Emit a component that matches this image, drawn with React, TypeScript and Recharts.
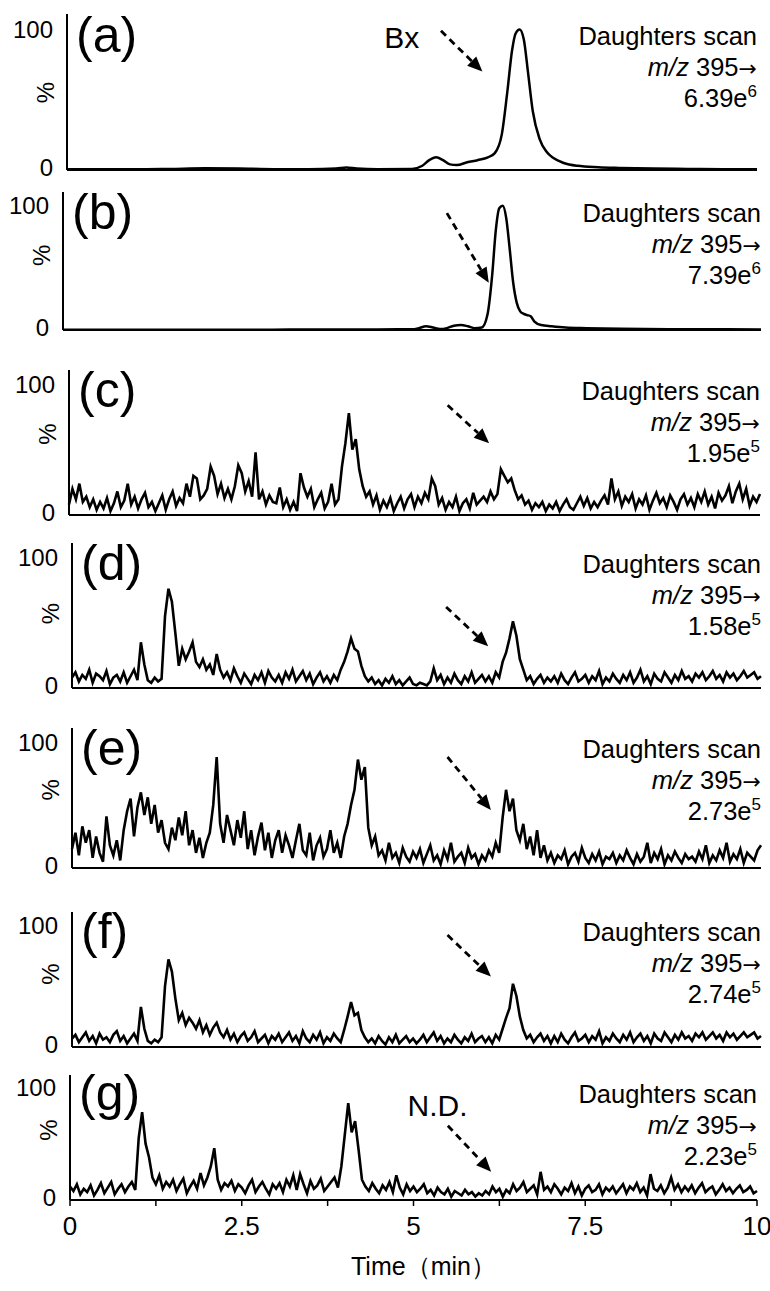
import React from 'react';
import { LineChart, Line, XAxis, YAxis, ReferenceLine, ReferenceDot } from 'recharts';

const FONT = '"Liberation Sans", Arial, sans-serif';

// (a) standard Bx, smooth trace
const timeA = [0, 0.5, 1, 1.5, 2, 2.5, 3, 3.5, 3.9, 4.05, 4.2, 4.5, 5, 5.15, 5.25, 5.35, 5.45, 5.55, 5.65, 5.8, 5.95, 6.1, 6.2, 6.3, 6.38, 6.45, 6.5, 6.56, 6.62, 6.68, 6.75, 6.85, 6.95, 7.05, 7.2, 7.4, 7.7, 8, 8.5, 9, 9.5, 10];
const valuesA = [0.5, 0.5, 0.5, 0.8, 1.2, 1, 0.6, 0.6, 1, 1.8, 1, 0.6, 0.8, 3, 7, 9, 7, 4, 3.5, 5.5, 7, 9, 12, 25, 55, 85, 97, 100, 93, 70, 42, 22, 13, 8.5, 5, 3, 2, 1.5, 1, 0.8, 0.6, 0.5];

// (b) spiked sample, smooth trace
const timeB = [0, 1, 2, 3, 4, 4.5, 5, 5.1, 5.2, 5.3, 5.4, 5.5, 5.6, 5.7, 5.8, 5.9, 6.0, 6.08, 6.15, 6.2, 6.25, 6.3, 6.35, 6.4, 6.45, 6.5, 6.55, 6.6, 6.65, 6.7, 6.75, 6.85, 7, 7.2, 7.5, 8, 9, 10];
const valuesB = [0.3, 0.3, 0.3, 0.3, 0.5, 0.5, 0.6, 1.5, 3, 2, 0.8, 1.5, 3.5, 4, 3, 1.5, 2, 12, 45, 80, 98, 100, 90, 65, 38, 22, 15, 13, 12, 11, 7, 4, 3, 2, 1.5, 1, 0.6, 0.5];

// (c)-(g) noisy traces, evenly sampled from 0 to 10 min
const valuesC = [
  8, 20, 12, 24, 10, 14, 6, 12, 4, 10, 5, 13, 3, 9, 18, 6, 11, 24, 8, 14,
  5, 12, 17, 6, 10, 3, 9, 15, 4, 12, 18, 7, 13, 9, 24, 14, 30, 28, 12, 15,
  20, 37, 30, 16, 24, 13, 20, 12, 22, 38, 32, 18, 26, 14, 48, 12, 18, 8, 15, 10,
  9, 21, 6, 12, 4, 10, 3, 32, 21, 14, 20, 6, 12, 17, 5, 10, 24, 8, 12, 37,
  55, 78, 50, 58, 35, 22, 14, 18, 8, 15, 4, 11, 6, 13, 3, 9, 14, 5, 12, 16,
  6, 14, 9, 17, 12, 28, 22, 8, 13, 4, 10, 6, 14, 3, 9, 12, 5, 17, 8, 11,
  14, 10, 18, 12, 16, 35, 30, 25, 28, 19, 12, 15, 8, 11, 4, 9, 6, 10, 3, 8,
  5, 10, 3, 8, 12, 6, 4, 9, 14, 7, 13, 5, 10, 6, 11, 15, 8, 28, 12, 18,
  7, 14, 10, 16, 5, 12, 8, 15, 4, 11, 17, 9, 13, 6, 15, 10, 4, 12, 16, 8,
  13, 6, 16, 10, 18, 8, 14, 5, 17, 11, 15, 22, 9, 18, 24, 12, 20, 7, 14, 10, 16,
];
const valuesD = [
  8, 12, 5, 10, 7, 14, 4, 11, 9, 6, 13, 3, 8, 10, 5, 12, 4, 9, 14, 6,
  35, 18, 6, 4, 8, 5, 7, 55, 76, 66, 42, 17, 30, 22, 28, 35, 20, 16, 22, 14,
  18, 10, 26, 14, 8, 12, 6, 15, 9, 4, 11, 7, 3, 10, 6, 12, 4, 13, 8, 5,
  10, 4, 12, 7, 14, 5, 9, 13, 6, 11, 3, 8, 12, 5, 9, 4, 10, 6, 14, 20,
  28, 38, 30, 28, 17, 9, 5, 8, 3, 6, 2, 7, 4, 9, 3, 6, 2, 5, 8, 3,
  2, 4, 3, 2, 5, 15, 6, 10, 3, 8, 4, 11, 6, 3, 9, 5, 12, 4, 7, 10,
  5, 9, 4, 12, 8, 20, 27, 38, 51, 40, 22, 14, 6, 9, 3, 7, 10, 4, 8, 5,
  9, 4, 11, 6, 3, 8, 12, 5, 7, 10, 4, 9, 6, 13, 3, 8, 5, 11, 7, 4,
  10, 6, 12, 4, 8, 14, 5, 9, 3, 11, 7, 5, 12, 8, 4, 10, 6, 13, 7, 9,
  5, 11, 8, 12, 6, 9, 13, 7, 10, 5, 12, 8, 11, 6, 9, 13, 8, 10, 12, 7, 9,
];
const valuesE = [
  15, 28, 10, 33, 20, 30, 8, 25, 12, 5, 41, 18, 10, 22, 6, 30, 45, 55, 25, 48,
  60, 42, 56, 35, 50, 28, 38, 20, 15, 32, 22, 40, 26, 45, 18, 30, 12, 24, 8, 20,
  28, 50, 88, 35, 20, 42, 30, 18, 38, 24, 45, 15, 30, 10, 25, 36, 14, 28, 8, 22,
  30, 12, 26, 18, 8, 22, 35, 14, 10, 28, 6, 18, 24, 9, 15, 30, 12, 20, 8, 25,
  35, 50, 62, 86, 70, 80, 32, 18, 25, 10, 14, 6, 20, 8, 12, 4, 16, 9, 5, 13,
  8, 15, 4, 11, 18, 6, 10, 3, 14, 7, 20, 5, 9, 12, 4, 16, 8, 11, 3, 10,
  6, 14, 9, 20, 12, 40, 62, 45, 55, 30, 22, 35, 15, 25, 10, 30, 8, 18, 6, 12,
  4, 10, 7, 14, 3, 9, 12, 5, 16, 8, 4, 11, 6, 13, 3, 9, 7, 12, 4, 10,
  6, 14, 8, 3, 11, 5, 9, 20, 4, 12, 7, 15, 3, 10, 6, 13, 8, 4, 11, 7,
  9, 5, 13, 7, 18, 4, 10, 6, 14, 8, 20, 5, 11, 7, 15, 4, 12, 9, 6, 14, 18,
];
const valuesF = [
  7, 10, 4, 8, 12, 5, 9, 3, 11, 6, 8, 4, 10, 13, 5, 9, 3, 7, 11, 5,
  33, 15, 5, 3, 6, 4, 8, 50, 72, 62, 40, 22, 28, 18, 24, 20, 15, 22, 12, 18,
  10, 16, 20, 12, 8, 14, 6, 11, 4, 9, 12, 5, 8, 13, 4, 7, 10, 3, 9, 6,
  11, 4, 8, 12, 5, 9, 3, 13, 7, 4, 10, 6, 12, 3, 8, 5, 11, 7, 4, 14,
  25, 37, 26, 28, 14, 8, 4, 7, 3, 9, 5, 2, 8, 4, 10, 3, 6, 9, 4, 7,
  3, 6, 10, 4, 8, 12, 5, 9, 3, 7, 4, 10, 6, 3, 8, 5, 11, 4, 7, 9,
  4, 8, 3, 10, 6, 15, 24, 32, 52, 42, 25, 14, 7, 10, 4, 8, 11, 5, 9, 3,
  9, 4, 11, 6, 3, 8, 12, 5, 7, 10, 4, 9, 6, 13, 3, 8, 5, 11, 7, 4,
  10, 6, 12, 4, 8, 11, 5, 9, 3, 11, 7, 5, 12, 8, 4, 10, 6, 12, 7, 9,
  5, 11, 8, 12, 6, 9, 12, 7, 10, 5, 12, 8, 11, 6, 9, 12, 8, 10, 12, 7, 9,
];
const valuesG = [
  12, 8, 14, 5, 10, 7, 13, 4, 9, 15, 6, 11, 16, 5, 10, 14, 7, 12, 16, 9,
  55, 78, 50, 38, 20, 14, 22, 10, 16, 12, 18, 8, 14, 19, 6, 12, 17, 10, 24, 13,
  20, 30, 46, 18, 9, 15, 12, 17, 8, 14, 11, 6, 13, 18, 7, 12, 16, 10, 5, 14,
  10, 15, 7, 18, 12, 22, 9, 23, 14, 6, 17, 10, 13, 19, 8, 12, 16, 20, 11, 30,
  58, 86, 60, 70, 45, 18, 12, 8, 15, 10, 6, 13, 9, 16, 7, 22, 11, 5, 14, 8,
  12, 7, 10, 14, 6, 9, 4, 11, 7, 5, 10, 3, 8, 6, 4, 9, 5, 7, 3, 6,
  4, 8, 5, 12, 7, 10, 3, 9, 6, 14, 8, 11, 16, 7, 10, 13, 5, 25, 9, 12,
  7, 14, 10, 5, 11, 8, 15, 6, 12, 4, 10, 13, 7, 9, 14, 5, 11, 8, 12, 6,
  10, 14, 6, 12, 9, 15, 7, 11, 4, 23, 10, 8, 13, 6, 11, 20, 9, 14, 7, 12,
  8, 13, 6, 11, 15, 7, 10, 12, 5, 9, 14, 8, 11, 6, 10, 13, 7, 9, 12, 6, 8,
];

const panelLetters = ['(a)', '(b)', '(c)', '(d)', '(e)', '(f)', '(g)'];
const intensities = ['6.39', '7.39', '1.95', '1.58', '2.73', '2.74', '2.23'];
const exponents = ['6', '6', '5', '5', '5', '5', '5'];
const xTicks = [0, 1.25, 2.5, 3.75, 5, 6.25, 7.5, 8.75, 10];
const xTickLabels = ['0', '', '2.5', '', '5', '', '7.5', '', '10'];
const yTicks = [0, 100];

const toSeries = (values: number[], times?: number[]) =>
  values.map((v, i) => ({ t: times ? times[i] : (i * 10) / (values.length - 1), v }));

const series = [
  toSeries(valuesA, timeA),
  toSeries(valuesB, timeB),
  toSeries(valuesC),
  toSeries(valuesD),
  toSeries(valuesE),
  toSeries(valuesF),
  toSeries(valuesG),
];

// page geometry of each panel (axis top, baseline, left/right ends), % label height, arrow
const panels = [
  { top: 14, base: 170, left: 67, right: 757, pct: 55, arrow: [[5.42, 99], [6.02, 70]], smooth: true },
  { top: 192, base: 330, left: 63, right: 761, pct: 60, arrow: [[5.5, 94], [6.1, 38]], smooth: true },
  { top: 370, base: 515, left: 69, right: 760, pct: 62, arrow: [[5.48, 84], [6.08, 55]], smooth: false },
  { top: 543, base: 688, left: 72, right: 761, pct: 57, arrow: [[5.43, 62], [6.04, 32]], smooth: false },
  { top: 728, base: 868, left: 72, right: 761, pct: 62, arrow: [[5.45, 88], [6.08, 46]], smooth: false },
  { top: 912, base: 1047, left: 72, right: 761, pct: 60, arrow: [[5.45, 92], [6.08, 58]], smooth: false },
  { top: 1075, base: 1200, left: 70, right: 757, pct: 62, arrow: [[5.5, 66], [6.13, 25]], smooth: false },
];

const Y_AXIS_W = 60;

const DashedArrow = (p: any) => {
  const { x1, y1, x2, y2 } = p;
  const ang = Math.atan2(y2 - y1, x2 - x1);
  const len = 15;
  const half = 6.5;
  const bx = x2 - len * Math.cos(ang);
  const by = y2 - len * Math.sin(ang);
  const pts = `${x2},${y2} ${bx - half * Math.sin(ang)},${by + half * Math.cos(ang)} ${bx + half * Math.sin(ang)},${by - half * Math.cos(ang)}`;
  return (
    <g>
      <line x1={x1} y1={y1} x2={bx} y2={by} stroke="#000" strokeWidth={2.8} strokeDasharray="7 5" />
      <polygon points={pts} fill="#000" />
    </g>
  );
};

const YTick = (t: any) => (
  <text
    x={t.x}
    y={t.y + (t.payload.value === 0 ? -3 : 0)}
    dy="0.36em"
    textAnchor="end"
    fontSize={24}
    fontFamily={FONT}
    fill="#000"
  >
    {t.payload.value}
  </text>
);

const XTick = (t: any) => (
  <text x={t.x} y={t.y} dy="0.9em" textAnchor="middle" fontSize={26} fontFamily={FONT} fill="#000">
    {xTickLabels[xTicks.indexOf(t.payload.value)]}
  </text>
);

const TimeLabel = (l: any) => {
  const vb = l.viewBox;
  return (
    <text x={vb.x + vb.width / 2 + 10} y={vb.y + 75} textAnchor="middle" fontSize={25} fontFamily={FONT} fill="#000">
      Time（min）
    </text>
  );
};

function Panel({ idx }: { idx: number }) {
  const p = panels[idx];
  const last = idx === panels.length - 1;
  const xAxisH = last ? 90 : 10;
  const mTop = 24;
  const height = p.base - p.top + mTop + xAxisH;
  return (
    <div style={{ position: 'absolute', left: 0, top: p.top - mTop }}>
      <LineChart
        width={770}
        height={height}
        data={series[idx]}
        margin={{ top: mTop, right: 770 - p.right, left: p.left - Y_AXIS_W, bottom: 0 }}
      >
        <XAxis
          dataKey="t"
          type="number"
          domain={[0, 10]}
          ticks={xTicks}
          interval={0}
          height={xAxisH}
          axisLine={{ stroke: '#000', strokeWidth: 2 }}
          tickLine={{ stroke: '#000', strokeWidth: 1.5 }}
          tickSize={6}
          tickMargin={6}
          tick={last ? XTick : false}
          label={last ? { content: TimeLabel } : undefined}
        />
        <YAxis
          type="number"
          domain={[0, 111]}
          ticks={yTicks}
          interval={0}
          width={Y_AXIS_W}
          axisLine={{ stroke: '#000', strokeWidth: 2 }}
          tickLine={false}
          tickMargin={8}
          tick={YTick}
        />
        <ReferenceDot
          x={0}
          y={100}
          shape={(d: any) => (
            <text x={d.cx + 9} y={d.cy + 23} fontSize={50} fontFamily={FONT} fill="#000">
              {panelLetters[idx]}
            </text>
          )}
        />
        <ReferenceDot
          x={0}
          y={p.pct}
          shape={(d: any) => (
            <text
              x={d.cx - 21}
              y={d.cy}
              fontSize={24}
              fontFamily={FONT}
              fill="#000"
              textAnchor="middle"
              dominantBaseline="central"
              transform={`rotate(-90 ${d.cx - 21} ${d.cy})`}
            >
              %
            </text>
          )}
        />
        <ReferenceDot
          x={10}
          y={100}
          shape={(d: any) => (
            <g fontSize={25.5} fontFamily={FONT} fill="#000" textAnchor="end">
              <text x={d.cx} y={d.cy + 16}>Daughters scan</text>
              <text x={d.cx} y={d.cy + 47}>
                <tspan fontStyle="italic">m/z</tspan> 395<tspan fontFamily='"DejaVu Sans"' fontSize={22}>→</tspan>
              </text>
              <text x={d.cx} y={d.cy + 78}>
                {intensities[idx]}e<tspan dy={-10} fontSize={17}>{exponents[idx]}</tspan>
              </text>
            </g>
          )}
        />
        {idx === 0 && (
          <ReferenceDot
            x={4.85}
            y={94}
            shape={(d: any) => (
              <text x={d.cx} y={d.cy} fontSize={30} fontFamily={FONT} fill="#000" textAnchor="middle" dominantBaseline="central">
                Bx
              </text>
            )}
          />
        )}
        {last && (
          <ReferenceDot
            x={5.35}
            y={84}
            shape={(d: any) => (
              <text x={d.cx} y={d.cy} fontSize={30} fontFamily={FONT} fill="#000" textAnchor="middle" dominantBaseline="central">
                N.D.
              </text>
            )}
          />
        )}
        <ReferenceLine
          segment={[
            { x: p.arrow[0][0], y: p.arrow[0][1] },
            { x: p.arrow[1][0], y: p.arrow[1][1] },
          ]}
          shape={DashedArrow}
        />
        <Line
          type={p.smooth ? 'monotone' : 'linear'}
          dataKey="v"
          stroke="#000"
          strokeWidth={p.smooth ? 2.5 : 2.6}
          dot={false}
          isAnimationActive={false}
        />
      </LineChart>
    </div>
  );
}

export default function App() {
  return (
    <div
      style={{
        position: 'absolute',
        left: 0,
        top: 0,
        width: 770,
        height: 1291,
        background: '#fff',
        fontFamily: FONT,
      }}
    >
      {panels.map((_, i) => (
        <Panel key={i} idx={i} />
      ))}
    </div>
  );
}
